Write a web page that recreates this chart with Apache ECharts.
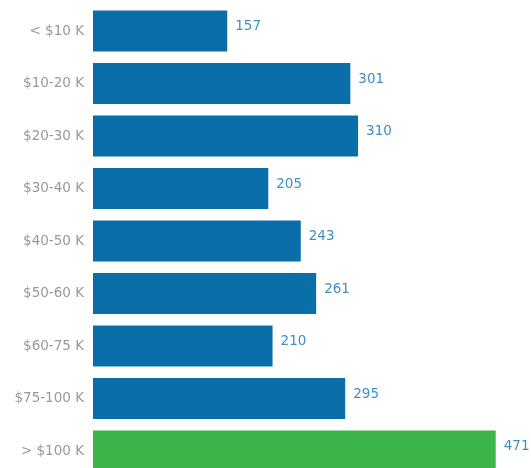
<!DOCTYPE html>
<html>
<head>
<meta charset="utf-8">
<script src="https://cdn.jsdelivr.net/npm/echarts@6/dist/echarts.min.js"></script>
<style>
  html, body { margin: 0; padding: 0; background: #fff; }
  #chart { width: 531px; height: 468px; }
</style>
</head>
<body>
<div id="chart"></div>
<script>
// Household income brackets and respondent counts
const categories = ['< $10 K', '$10-20 K', '$20-30 K', '$30-40 K', '$40-50 K', '$50-60 K', '$60-75 K', '$75-100 K', '> $100 K'];
const counts = [157, 301, 310, 205, 243, 261, 210, 295, 471];
const highlightIndex = 8;

const chart = echarts.init(document.getElementById('chart'));
chart.setOption({
  animation: false,
  // the plot runs a little past the bottom edge, so the last bar is clipped
  grid: {
    left: 93, width: 427.5, top: 4.75, height: 472.5,
    containLabel: false,
    outerBoundsMode: 'none'
  },
  xAxis: {
    type: 'value', min: 0, max: 500, show: false
  },
  yAxis: {
    type: 'category',
    data: categories,
    inverse: true,
    axisLine: { show: false },
    axisTick: { show: false },
    axisLabel: {
      color: '#999999',
      fontFamily: 'DejaVu Sans, sans-serif',
      fontSize: 13.5,
      margin: 9
    }
  },
  series: [{
    type: 'bar',
    data: counts.map((v, i) => ({
      value: v,
      itemStyle: { color: i === highlightIndex ? '#3cb44a' : '#0a6ea8' }
    })),
    barCategoryGap: '22%',
    label: {
      show: true,
      position: 'right',
      distance: 8,
      offset: [0, -4.5],
      color: '#3f8fc6',
      fontFamily: 'DejaVu Sans, sans-serif',
      fontSize: 13.5
    }
  }]
});
</script>
</body>
</html>
